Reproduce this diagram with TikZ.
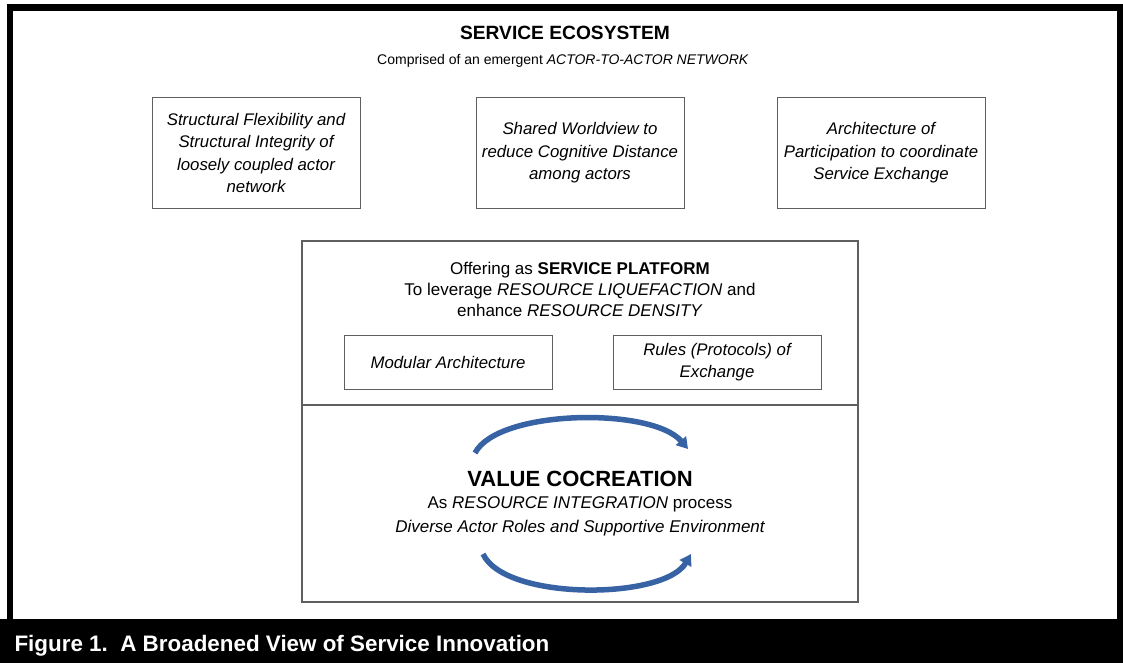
\documentclass[tikz,border=0pt]{standalone}
\usepackage{fontspec}
\setmainfont{Liberation Sans}
\usetikzlibrary{arrows.meta, positioning}
\definecolor{linegray}{RGB}{95,95,95}
\definecolor{loopblue}{RGB}{55,98,164}

\begin{document}
\begin{tikzpicture}[
  x=1pt, y=-1pt,
  head/.style  = {anchor=base, font=\fontsize{19.2}{23}\selectfont\bfseries},
  plain/.style = {anchor=base, font=\fontsize{17}{21}\selectfont, align=center},
  box/.style   = {rectangle, draw=linegray, line width=1pt, minimum width=208pt,
                  font=\fontsize{16.8}{22.6}\selectfont\itshape, align=center},
  loop/.style  = {-{Triangle[length=11pt, width=13pt]}, line width=5.5pt,
                  loopblue, line cap=butt},
]
  \useasboundingbox (0,0) rectangle (1123,663);
  \fill[white] (0,0) rectangle (1123,663);
  % frame and caption bar
  \fill[black] (0,619) rectangle (1123,663);
  \draw[line width=6.5pt] (10,7.5) -- (1120,7.5) -- (1120,619);
  \draw[line width=6.5pt] (10,4.25) -- (10,619);
  \node[anchor=base west, text=white, font=\fontsize{22.4}{26}\selectfont\bfseries]
    (cap) at (11,651) {Figure 1.\ \ A Broadened View of Service Innovation};

  % service ecosystem
  \node[head] (eco) at (565,40) {SERVICE ECOSYSTEM};
  \node[plain, font=\fontsize{14}{18}\selectfont] (eco2) at (563,65)
    {Comprised of an emergent \textit{ACTOR-TO-ACTOR NETWORK}};

  \node[box, minimum height=110pt] (flex) at (256,153)
    {Structural Flexibility and\\Structural Integrity of\\loosely coupled actor\\network};
  \node[box, minimum height=110pt, right=115pt of flex] (view)
    {Shared Worldview to\\reduce Cognitive Distance\\among actors};
  \node[box, minimum height=110pt, right=92pt of view] (arch)
    {Architecture of\\Participation to coordinate\\Service Exchange};

  % service platform
  \node[draw=linegray, line width=1.6pt, minimum width=556pt, minimum height=164pt]
    (plat) at (580,323) {};
  \node[draw=linegray, line width=1.6pt, minimum width=556pt, minimum height=197pt]
    (vc) at (580,503.5) {};
  \node[plain, anchor=center] (platt) at (580,289)
    {Offering as \textbf{SERVICE PLATFORM}\\To leverage \textit{RESOURCE LIQUEFACTION} and\\enhance \textit{RESOURCE DENSITY}};
  \node[box, minimum height=54pt] (mod) at (448,362) {Modular Architecture};
  \node[box, minimum height=54pt, right=60pt of mod] (rules)
    {Rules (Protocols) of\\Exchange};

  % value cocreation
  \node[head, font=\fontsize{22}{26}\selectfont\bfseries] (val) at (580,486) {VALUE COCREATION};
  \node[plain] (val2) at (580,508) {As \textit{RESOURCE INTEGRATION} process};
  \node[plain, font=\fontsize{17}{21}\selectfont\itshape] (val3) at (580,532)
    {Diverse Actor Roles and Supportive Environment};

  \coordinate (t1) at (475,453);
  \coordinate (t2) at (688,449);
  \coordinate (b1) at (483,554);
  \coordinate (b2) at (691,554);
  \draw[loop] (t1) .. controls (498,409) and (652,407) .. (t2);
  \draw[loop] (b1) .. controls (505,601) and (664,600) .. (b2);
\end{tikzpicture}
\end{document}
